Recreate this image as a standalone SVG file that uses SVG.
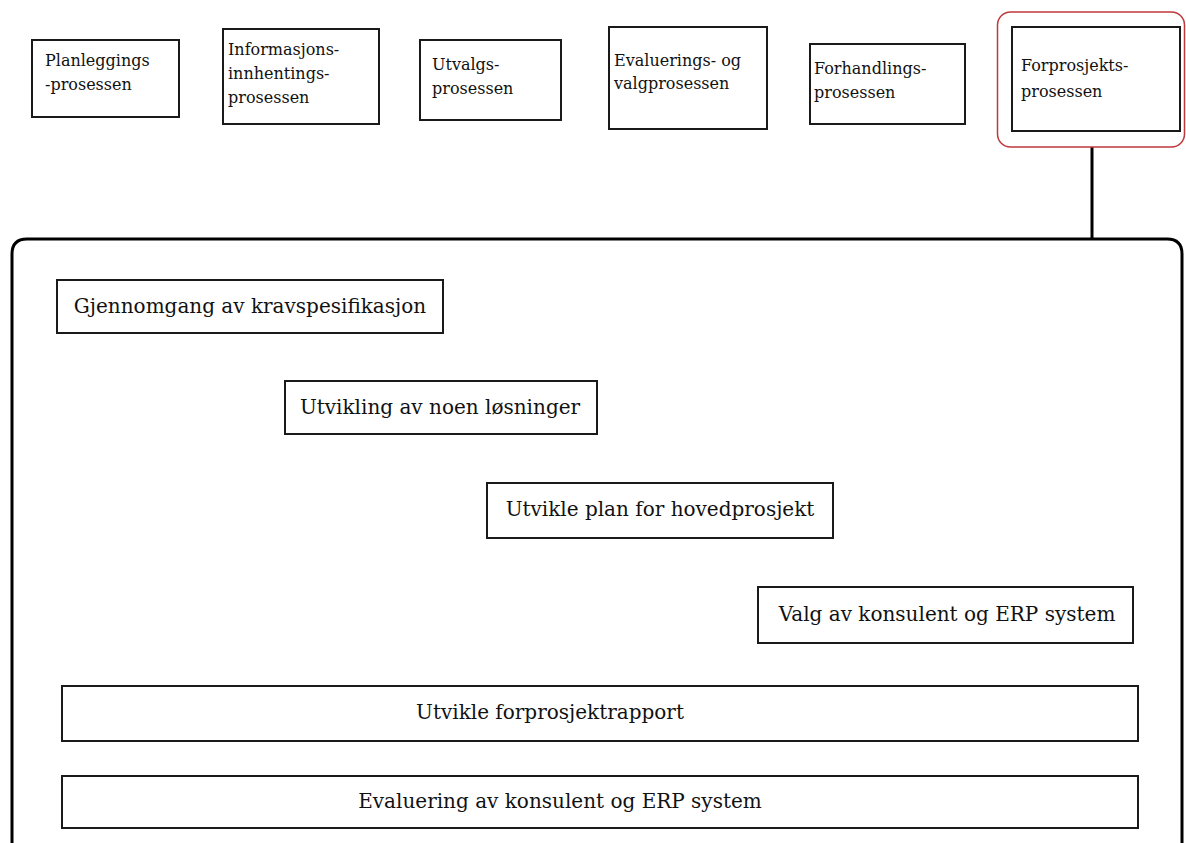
<svg xmlns="http://www.w3.org/2000/svg" width="1186" height="843" viewBox="0 0 1186 843">
<style>
.box{fill:#fff;stroke:#1a1a1a;stroke-width:2}
.t{font-family:"DejaVu Serif","Liberation Serif",serif;font-size:16px;fill:#111}
.ti{font-family:"DejaVu Serif","Liberation Serif",serif;font-size:20px;fill:#111}
.conn{stroke:#000;stroke-width:3;fill:none}
</style>
<rect width="1186" height="843" fill="#fff"/>
<g id="connectors">
<line class="conn" x1="1092" y1="147" x2="1092" y2="239"/>
</g>
<g id="container">
<path class="conn" d="M12,860 L12,254 Q12,239 27,239 L1167,239 Q1182,239 1182,254 L1182,860"/>
</g>
<g id="n1"><rect class="box" x="32" y="40" width="147" height="77"/>
<text class="t" x="45" y="66">Planleggings</text><text class="t" x="45" y="90">-prosessen</text></g>
<g id="n2"><rect class="box" x="223" y="29" width="156" height="95"/>
<text class="t" x="228" y="55">Informasjons-</text><text class="t" x="228" y="79">innhentings-</text><text class="t" x="228" y="103">prosessen</text></g>
<g id="n3"><rect class="box" x="420" y="40" width="141" height="80"/>
<text class="t" x="432" y="70">Utvalgs-</text><text class="t" x="432" y="94">prosessen</text></g>
<g id="n4"><rect class="box" x="609" y="27" width="158" height="102"/>
<text class="t" x="614" y="66">Evaluerings- og</text><text class="t" x="614" y="89">valgprosessen</text></g>
<g id="n5"><rect class="box" x="810" y="44" width="155" height="80"/>
<text class="t" x="814" y="74">Forhandlings-</text><text class="t" x="814" y="98">prosessen</text></g>
<g id="n6"><rect x="997.5" y="12" width="187" height="135" rx="13" fill="#fff" stroke="#c0393b" stroke-width="1.5"/>
<rect class="box" x="1012" y="27" width="168" height="104"/>
<text class="t" x="1021" y="71">Forprosjekts-</text><text class="t" x="1021" y="97">prosessen</text></g>
<g id="s1"><rect class="box" x="57" y="280" width="386" height="53"/>
<text class="ti" x="250" y="313" text-anchor="middle">Gjennomgang av kravspesifikasjon</text></g>
<g id="s2"><rect class="box" x="285" y="381" width="312" height="53"/>
<text class="ti" x="440" y="414" text-anchor="middle">Utvikling av noen løsninger</text></g>
<g id="s3"><rect class="box" x="487" y="483" width="346" height="55"/>
<text class="ti" x="660" y="516" text-anchor="middle">Utvikle plan for hovedprosjekt</text></g>
<g id="s4"><rect class="box" x="758" y="587" width="375" height="56"/>
<text class="ti" x="947" y="621" text-anchor="middle">Valg av konsulent og ERP system</text></g>
<g id="s5"><rect class="box" x="62" y="686" width="1076" height="55"/>
<text class="ti" x="550" y="719" text-anchor="middle">Utvikle forprosjektrapport</text></g>
<g id="s6"><rect class="box" x="62" y="776" width="1076" height="52"/>
<text class="ti" x="560" y="808" text-anchor="middle">Evaluering av konsulent og ERP system</text></g>
</svg>
